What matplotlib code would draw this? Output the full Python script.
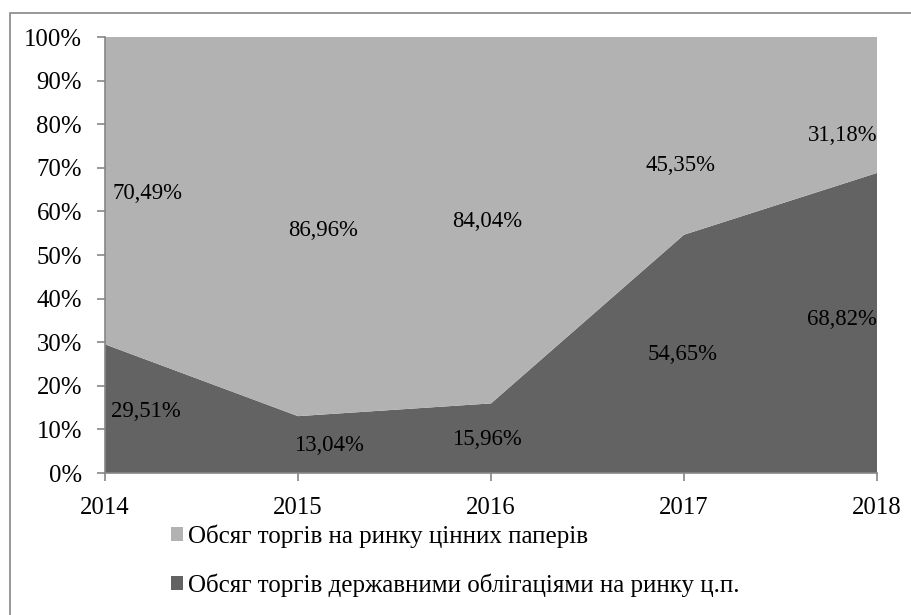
import matplotlib
matplotlib.use("Agg")
from matplotlib import pyplot as plt
from matplotlib.patches import Patch, Rectangle
import numpy as np

plt.rcParams['font.family'] = ['Liberation Serif', 'DejaVu Serif']

years = [2014, 2015, 2016, 2017, 2018]
gov_bonds = [29.51, 13.04, 15.96, 54.65, 68.82]
securities = [70.49, 86.96, 84.04, 45.35, 31.18]
gov_labels = ["29,51%", "13,04%", "15,96%", "54,65%", "68,82%"]
sec_labels = ["70,49%", "86,96%", "84,04%", "45,35%", "31,18%"]

# where the data labels sit (x in years, y in %)
gov_lab_x = [2014.21, 2015.16, 2015.98, 2016.99, 2017.82]
gov_lab_y = [14.2, 6.4, 7.6, 27.1, 35.1]
sec_lab_x = [2014.22, 2015.13, 2015.98, 2016.98, 2017.82]
sec_lab_y = [64.2, 55.7, 57.6, 70.6, 77.5]

legend_names = ["Обсяг торгів на ринку цінних паперів",
                "Обсяг торгів державними облігаціями на ринку ц.п."]

light = '#b2b2b2'
dark = '#636363'
axcol = '#868686'

fig = plt.figure(figsize=(9.12, 6.15), dpi=100)
ax = fig.add_axes([105/912, 1 - 473/615, (877-105)/912, (473-37)/615])

ax.stackplot(years, gov_bonds, securities, colors=[dark, light], linewidth=0)

for x, y, s in zip(gov_lab_x, gov_lab_y, gov_labels):
    ax.text(x, y, s, ha='center', va='center', fontsize=16.4, color='black')
for x, y, s in zip(sec_lab_x, sec_lab_y, sec_labels):
    ax.text(x, y, s, ha='center', va='center', fontsize=16.4, color='black')

ax.set_xlim(2014, 2018)
ax.set_ylim(0, 100)
ax.set_xticks(years)
ax.set_xticklabels([str(y) for y in years])
ax.set_yticks(np.arange(0, 101, 10))
ax.set_yticklabels([f"{v}%" for v in range(0, 101, 10)])
ax.tick_params(axis='both', labelsize=17.8, color=axcol, length=5.5, width=1.2)
ax.tick_params(axis='x', pad=12)
ax.tick_params(axis='y', pad=11)
for s in ['top', 'right']:
    ax.spines[s].set_visible(False)
for s in ['left', 'bottom']:
    ax.spines[s].set_color(axcol)
    ax.spines[s].set_linewidth(1.2)

handles = [Patch(facecolor=light), Patch(facecolor=dark)]
fig.legend(handles, legend_names, loc='upper left',
           bbox_to_anchor=(171/912, 1 - 524/615), frameon=False,
           fontsize=18, handlelength=0.5, handleheight=0.5,
           handletextpad=0.2, labelspacing=1.04, borderaxespad=0,
           borderpad=0)

# outer chart frame
fig.patches.append(Rectangle((10/912, -0.05), 1.1, 1 - 13/615 + 0.05,
                             transform=fig.transFigure, fill=False,
                             edgecolor=axcol, linewidth=1.2))

fig.savefig("out.png", dpi=100)
